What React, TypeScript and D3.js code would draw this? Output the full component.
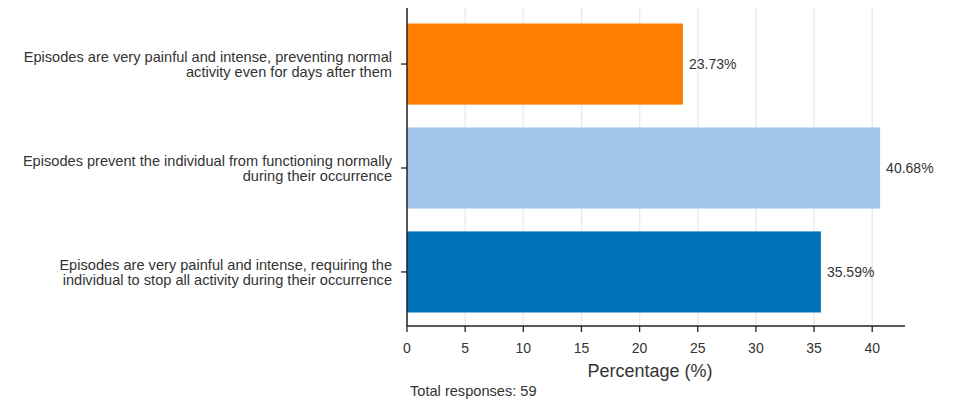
import React from "react";
import * as d3 from "d3";

const categories: string[][] = [
  ["Episodes are very painful and intense, preventing normal", "activity even for days after them"],
  ["Episodes prevent the individual from functioning normally", "during their occurrence"],
  ["Episodes are very painful and intense, requiring the", "individual to stop all activity during their occurrence"],
];
const values: number[] = [23.73, 40.68, 35.59];
const colors: string[] = ["#ff7f00", "#a2c4e8", "#0173b9"];
const xTicks: number[] = [0, 5, 10, 15, 20, 25, 30, 35, 40];
const xLabel = "Percentage (%)";
const footnote = "Total responses: 59";

export default function App() {
  const W = 955, H = 403;
  const left = 407, right = 905, top = 8, bottom = 326;
  const x = d3.scaleLinear().domain([0, 42.82]).range([left, right]);
  const y = d3.scaleBand<number>().domain(d3.range(categories.length)).range([top + 2, bottom]).paddingInner(0.22).paddingOuter(0.13);
  const font = "'Liberation Sans', Arial, sans-serif";
  return (
    <svg width={W} height={H} style={{ position: "absolute", left: 0, top: 0 }} fontFamily={font}>
      <rect width={W} height={H} fill="#fff" />
      {xTicks.map((t) => (
        <line key={"g" + t} x1={x(t)} x2={x(t)} y1={top} y2={bottom} stroke="#ececec" strokeWidth={1.5} />
      ))}
      {values.map((v, i) => (
        <g key={"b" + i}>
          <rect x={x(0)} y={y(i)!} width={x(v) - x(0)} height={y.bandwidth()} fill={colors[i]} />
          <text x={x(v) + 6} y={y(i)! + y.bandwidth() / 2} dy="0.35em" fontSize={14} fill="#333">
            {v.toFixed(2)}%
          </text>
        </g>
      ))}
      {categories.map((lines, i) => {
        const cy = y(i)! + y.bandwidth() / 2;
        return (
          <g key={"c" + i}>
            <line x1={left - 6} x2={left} y1={cy} y2={cy} stroke="#222" strokeWidth={1.3} />
            {lines.map((l, j) => (
              <text key={j} x={392} y={cy + (j - (lines.length - 1) / 2) * 15} dy="0.35em" textAnchor="end" fontSize={14.6} fill="#333">
                {l}
              </text>
            ))}
          </g>
        );
      })}
      <line x1={left} x2={left} y1={top} y2={bottom} stroke="#222" strokeWidth={1.5} />
      <line x1={left} x2={right} y1={bottom} y2={bottom} stroke="#222" strokeWidth={1.5} />
      {xTicks.map((t) => (
        <g key={"t" + t}>
          <line x1={x(t)} x2={x(t)} y1={bottom} y2={bottom + 6} stroke="#222" strokeWidth={1.3} />
          <text x={x(t)} y={bottom + 22} dy="0.35em" textAnchor="middle" fontSize={14} fill="#333">
            {t}
          </text>
        </g>
      ))}
      <text x={650} y={371} dy="0.35em" textAnchor="middle" fontSize={18} fill="#333">
        {xLabel}
      </text>
      <text x={410} y={391} dy="0.35em" fontSize={14.6} fill="#333">
        {footnote}
      </text>
    </svg>
  );
}
